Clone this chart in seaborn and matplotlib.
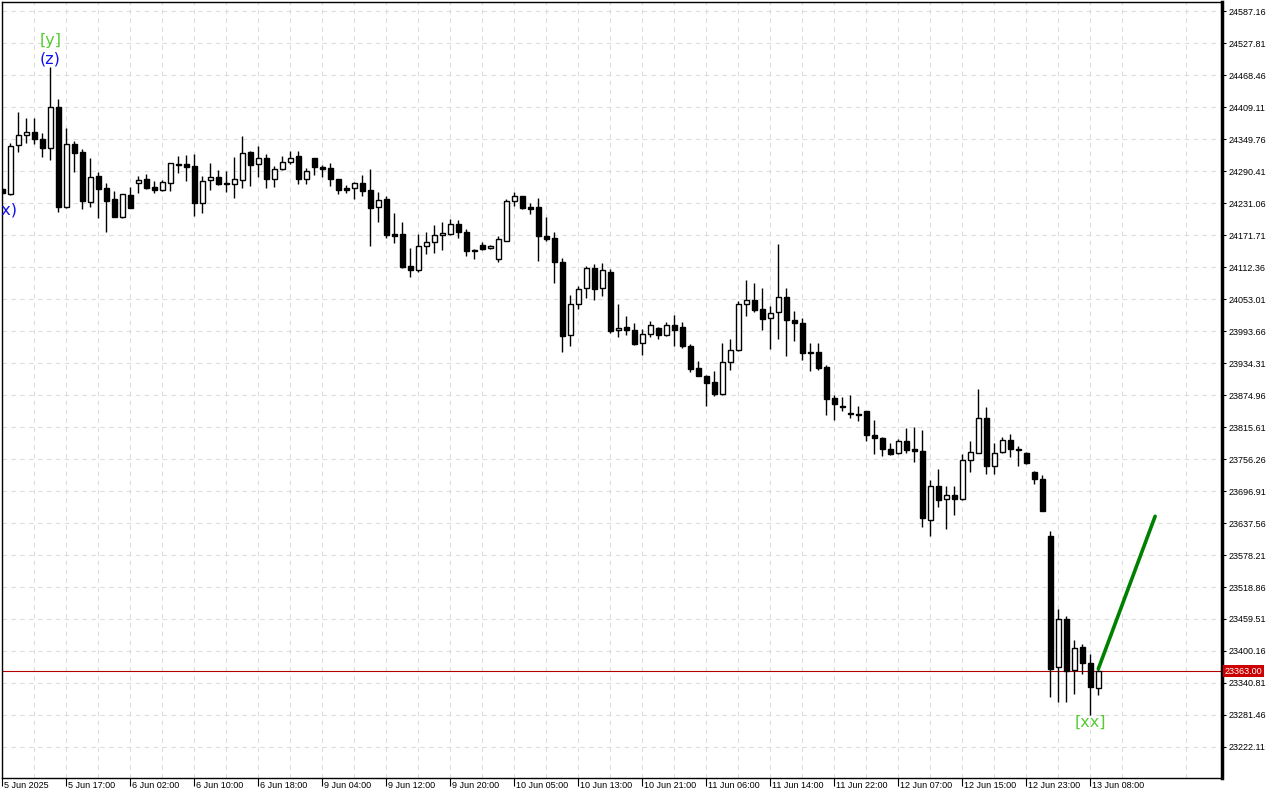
import numpy as np
import pandas as pd
import matplotlib
matplotlib.use('Agg')
import matplotlib.pyplot as plt
import matplotlib.transforms as mtransforms
import seaborn as sns

# hourly bars
opens = [24257, 24248, 24338, 24358, 24362, 24350, 24334, 24410, 24224, 24340,
         24325, 24233, 24282, 24258, 24238, 24206, 24246, 24269, 24275, 24261,
         24256, 24268, 24304, 24303, 24300, 24232, 24273, 24279, 24268, 24266,
         24274, 24325, 24303, 24314, 24276, 24294, 24308, 24318, 24275, 24315,
         24298, 24296, 24276, 24259, 24258, 24268, 24255, 24223, 24238, 24174,
         24174, 24114, 24106, 24151, 24159, 24171, 24173, 24192, 24177, 24143,
         24154, 24147, 24128, 24160, 24234, 24244, 24223, 24223, 24170, 24166,
         24121, 23986, 24043, 24073, 24110, 24073, 24104, 23995, 24001, 23995,
         23971, 23989, 24000, 23987, 24004, 24002, 23965, 23925, 23911, 23899,
         23876, 23936, 23958, 24043, 24051, 24034, 24017, 24028, 24056, 24014,
         24008, 23955, 23955, 23927, 23869, 23855, 23842, 23840, 23845, 23800,
         23795, 23774, 23767, 23790, 23775, 23771, 23643, 23706, 23682, 23690,
         23683, 23754, 23767, 23832, 23744, 23769, 23791, 23774, 23768, 23732,
         23720, 23613, 23371, 23459, 23364, 23407, 23377, 23332]
highs = [24259, 24342, 24400, 24388, 24388, 24360, 24484, 24424, 24370, 24346,
         24331, 24315, 24289, 24269, 24253, 24248, 24261, 24282, 24285, 24272,
         24274, 24306, 24318, 24321, 24322, 24281, 24305, 24292, 24291, 24316,
         24355, 24328, 24336, 24322, 24300, 24318, 24328, 24328, 24296, 24315,
         24301, 24305, 24276, 24264, 24270, 24283, 24295, 24252, 24245, 24212,
         24196, 24147, 24173, 24177, 24190, 24196, 24201, 24200, 24182, 24145,
         24158, 24153, 24169, 24239, 24251, 24244, 24232, 24240, 24205, 24177,
         24130, 24060, 24077, 24114, 24118, 24120, 24109, 24044, 24021, 24008,
         23997, 24012, 24002, 24010, 24023, 24010, 23970, 23938, 23912, 23920,
         23971, 23979, 24049, 24088, 24083, 24073, 24040, 24155, 24073, 24031,
         24017, 23971, 23971, 23931, 23875, 23872, 23875, 23855, 23846, 23829,
         23798, 23786, 23793, 23813, 23815, 23810, 23717, 23738, 23706, 23707,
         23765, 23790, 23886, 23853, 23786, 23798, 23803, 23780, 23770, 23734,
         23727, 23623, 23478, 23465, 23421, 23413, 23395, 23374]
lows = [24248, 24246, 24326, 24343, 24340, 24317, 24310, 24215, 24222, 24289,
        24220, 24224, 24204, 24178, 24205, 24204, 24221, 24249, 24257, 24250,
        24254, 24254, 24286, 24272, 24207, 24213, 24256, 24265, 24252, 24241,
        24258, 24263, 24280, 24259, 24261, 24292, 24303, 24267, 24267, 24283,
        24280, 24263, 24247, 24249, 24239, 24245, 24152, 24196, 24166, 24157,
        24111, 24093, 24104, 24137, 24139, 24143, 24172, 24167, 24133, 24128,
        24144, 24146, 24122, 24160, 24226, 24220, 24211, 24124, 24161, 24083,
        23955, 23966, 24035, 24055, 24052, 24059, 23990, 23983, 23986, 23968,
        23950, 23983, 23979, 23985, 23966, 23963, 23918, 23910, 23855, 23874,
        23875, 23922, 23957, 24022, 24028, 23996, 23961, 23978, 23947, 23976,
        23939, 23920, 23921, 23838, 23829, 23846, 23833, 23827, 23790, 23766,
        23762, 23764, 23766, 23768, 23751, 23631, 23614, 23667, 23627, 23653,
        23681, 23733, 23767, 23728, 23728, 23767, 23760, 23744, 23747, 23709,
        23659, 23315, 23306, 23306, 23320, 23357, 23281, 23318]
closes = [24250, 24337, 24358, 24362, 24350, 24334, 24410, 24224, 24340, 24324,
          24235, 24279, 24257, 24235, 24206, 24247, 24222, 24274, 24258, 24255,
          24270, 24305, 24302, 24298, 24232, 24271, 24279, 24267, 24266, 24275,
          24323, 24302, 24314, 24276, 24294, 24308, 24314, 24276, 24290, 24297,
          24295, 24276, 24256, 24256, 24268, 24254, 24221, 24236, 24172, 24170,
          24113, 24106, 24151, 24158, 24171, 24175, 24192, 24177, 24142, 24142,
          24146, 24152, 24164, 24234, 24244, 24221, 24220, 24170, 24165, 24122,
          23985, 24043, 24072, 24110, 24071, 24107, 23994, 24000, 23995, 23970,
          23989, 24004, 23987, 24004, 23996, 23966, 23924, 23911, 23898, 23876,
          23936, 23958, 24043, 24051, 24033, 24016, 24027, 24056, 24014, 24008,
          23952, 23952, 23925, 23868, 23859, 23853, 23839, 23837, 23800, 23795,
          23774, 23766, 23789, 23773, 23772, 23646, 23706, 23681, 23689, 23683,
          23754, 23769, 23832, 23744, 23767, 23791, 23775, 23773, 23748, 23720,
          23659, 23366, 23459, 23363, 23405, 23377, 23334, 23363]

time_labels = ['5 Jun 2025', '5 Jun 17:00', '6 Jun 02:00', '6 Jun 10:00', '6 Jun 18:00',
               '9 Jun 04:00', '9 Jun 12:00', '9 Jun 20:00', '10 Jun 05:00', '10 Jun 13:00',
               '10 Jun 21:00', '11 Jun 06:00', '11 Jun 14:00', '11 Jun 22:00', '12 Jun 07:00',
               '12 Jun 15:00', '12 Jun 23:00', '13 Jun 08:00']

price_ticks = [24587.16 - 59.35 * i for i in range(24)]
last_price = 23363.00

# projected move (green line)
proj_bar = [137, 144.1]
proj_price = [23367, 23650]

# wave labels
wave_text = ['[y]', '(z)', '(x)', '[xx]']
wave_bar = [6, 6, 0.6, 136]
wave_price = [24533, 24498, 24218, 23267]
wave_color = ['#55cc33', '#1010ee', '#1010ee', '#55cc33']

assert len(opens) == len(highs) == len(lows) == len(closes)

df = pd.DataFrame({'open': opens, 'high': highs, 'low': lows, 'close': closes})
df['bar'] = np.arange(len(df))
df['up'] = df['close'] >= df['open']
df['body_lo'] = df[['open', 'close']].min(axis=1)
df['body_h'] = (df['close'] - df['open']).abs()

sns.set_style('white')
plt.rcParams['font.family'] = ['Liberation Sans', 'DejaVu Sans']

fig = plt.figure(figsize=(12.8, 8), dpi=100)
ax = fig.add_axes([2 / 1280, 22 / 800, 1220 / 1280, 776 / 800])

# wicks, then bodies
ax.vlines(df['bar'], df['low'], df['high'], color='black', lw=1, zorder=3)
up = df[df['up']]
dn = df[~df['up']]
ax.bar(up['bar'], up['body_h'], bottom=up['body_lo'], width=0.62,
       color='white', edgecolor='black', linewidth=1, zorder=4)
ax.bar(dn['bar'], dn['body_h'], bottom=dn['body_lo'], width=0.62,
       color='black', edgecolor='black', linewidth=1, zorder=4)

sns.lineplot(x=proj_bar, y=proj_price, color='#008000', lw=2.6, ax=ax, zorder=5)

ax.axhline(last_price, color='#b00000', lw=0.8, zorder=2)

for t, b, p, c in zip(wave_text, wave_bar, wave_price, wave_color):
    ax.text(b, p, t, color=c, fontsize=11.5, ha='center', va='center',
            family=['DejaVu Sans'], clip_on=True, zorder=6)

ax.set_xlim(-0.04, 152.46)
ax.set_ylim(23164.6, 24603.9)

ax.set_yticks(price_ticks)
ax.set_yticklabels([f'{v:.2f}' for v in price_ticks])
ax.yaxis.tick_right()
ax.set_xticks(np.arange(0, 8 * len(time_labels), 8))
ax.set_xticklabels(time_labels, ha='left')
ax.set_xticks(np.arange(4, 152, 8), minor=True)

ax.grid(True, which='both', axis='x', ls=(0, (4, 4)), color='#dddddd', lw=0.8, zorder=0)
ax.grid(True, which='major', axis='y', ls=(0, (4, 4)), color='#dddddd', lw=0.8, zorder=0)
ax.set_axisbelow(True)

ax.tick_params(axis='y', which='major', direction='out', length=3, width=0.8,
               pad=2, labelsize=6.5, colors='black', right=True, left=False)
ax.tick_params(axis='x', which='major', direction='out', length=6, width=0.8,
               pad=-4, labelsize=6.5, colors='black', bottom=True)
ax.tick_params(axis='x', which='minor', length=0)

offset = mtransforms.ScaledTranslation(2 / 100, 0, fig.dpi_scale_trans)
for lab in ax.get_xticklabels():
    lab.set_transform(lab.get_transform() + offset)

for side in ['left', 'top', 'bottom']:
    ax.spines[side].set_color('black')
    ax.spines[side].set_linewidth(1)
ax.spines['right'].set_color('black')
ax.spines['right'].set_linewidth(2.5)

ax.set_xlabel('')
ax.set_ylabel('')

# current price box on the right scale
ax.text(1.002, last_price, f'{last_price:.2f}', transform=ax.get_yaxis_transform(),
        color='white', fontsize=6.5, ha='left', va='center', zorder=10, clip_on=False,
        bbox=dict(boxstyle='square,pad=0.2', fc='#cc0000', ec='none'))

fig.savefig('out.png', dpi=100)
